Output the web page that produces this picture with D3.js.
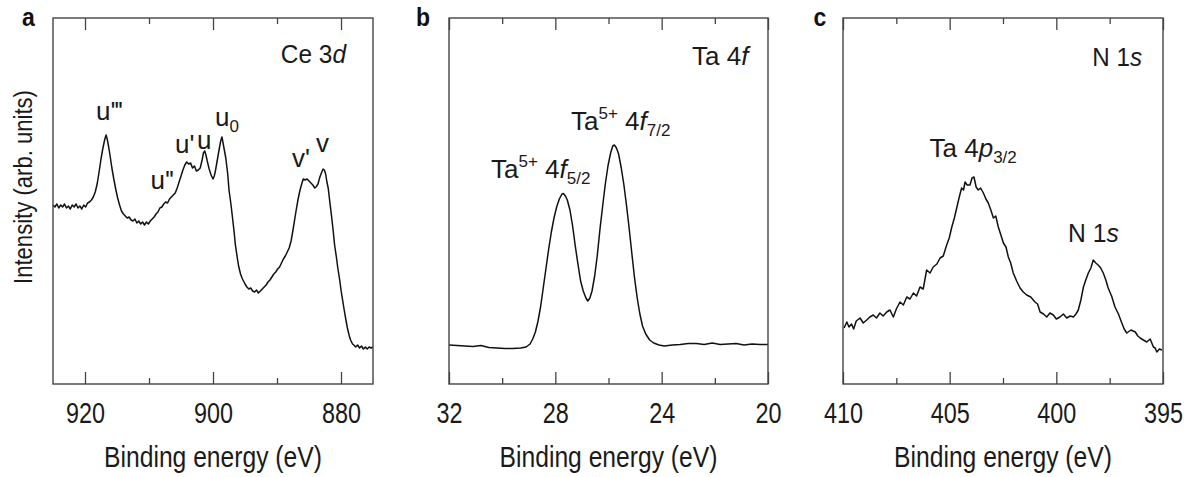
<!DOCTYPE html>
<html>
<head>
<meta charset="utf-8">
<script src="https://cdn.jsdelivr.net/npm/d3@7"></script>
<style>
html,body{margin:0;padding:0;background:#fff;}
svg{display:block;}
</style>
</head>
<body>
<svg id="chart" width="1194" height="477"></svg>
<script>
// ---------- DATA ----------
// Panel a: Ce 3d
const ceEnergy = [925,924.7,924.4,924.1,923.8,923.5,923.2,922.9,922.6,922.3,922,921.7,921.4,921.1,920.8,920.5,920.2,919.9,919.6,919.3,919,918.7,918.4,918.1,917.8,917.5,917.2,916.9,916.7,916.5,916.3,916.1,915.8,915.5,915.2,914.9,914.6,914.3,914,913.7,913.4,913.1,912.8,912.5,912.2,911.9,911.6,911.3,911,910.7,910.4,910.1,909.8,909.5,909.2,908.9,908.6,908.3,908,907.7,907.4,907.1,906.8,906.5,906.2,905.9,905.6,905.3,905,904.7,904.4,904.1,903.8,903.5,903.2,902.9,902.6,902.3,902,901.7,901.5,901.3,901.1,900.9,900.6,900.3,900,899.8,899.6,899.3,899,898.8,898.6,898.4,898.2,898,897.7,897.5,897.2,897,896.7,896.5,896.2,896,895.7,895.4,895,894.7,894.4,894.1,893.8,893.5,893.2,892.9,892.6,892.3,892,891.7,891.4,891.1,890.8,890.5,890.2,889.9,889.6,889.3,889,888.7,888.4,888.1,887.8,887.5,887.2,887,886.7,886.4,886.1,885.9,885.6,885.3,885,884.7,884.4,884.1,883.9,883.6,883.3,883,882.8,882.6,882.4,882.2,882,881.8,881.5,881.2,881,880.7,880.5,880.2,880,879.7,879.5,879.2,879,878.7,878.5,878.2,878,877.7,877.4,877.1,876.8,876.5,876.2,875.9,875.6,875.3,875];
const ceIntensity = [179,177,180,176,179,177,180,176,178,175,179,177,180,176,178,175,179,177,181,182,184,187,192,200,212,225,236,245,249,244,237,229,216,205,195,186,179,173,170,168,166,167,164,163,165,161,163,160,162,159,162,160,163,165,167,170,172,176,177,180,182,181,185,187,189,191,196,202,208,214,219,222,220,221,216,218,213,214,216,224,231,233,229,223,215,209,205,208,214,225,236,243,247,240,233,226,210,194,180,169,152,139,126,118,110,105,100,97,95,96,93,92,94,91,93,95,97,99,102,104,107,110,112,115,117,121,125,128,132,136,143,154,166,174,185,194,201,205,204,205,203,201,199,196,197,200,207,212,215,214,210,202,196,185,169,152,139,126,116,104,94,82,74,63,56,48,44,40,39,37,39,36,38,35,37,35,37,36,37];
const ceMajorTicks = [920, 900, 880];
const ceMinorTicks = [910, 890];

// Panel b: Ta 4f
const taEnergy = [32,31.7,31.4,31.1,30.8,30.5,30.2,29.9,29.6,29.3,29.1,28.95,28.85,28.75,28.65,28.55,28.45,28.35,28.25,28.15,28.05,27.95,27.85,27.75,27.7,27.62,27.55,27.45,27.35,27.25,27.15,27.05,26.95,26.85,26.78,26.7,26.62,26.52,26.42,26.32,26.22,26.12,26.02,25.92,25.84,25.78,25.7,25.62,25.52,25.42,25.32,25.22,25.12,25.02,24.92,24.82,24.72,24.6,24.45,24.3,24.1,23.9,23.6,23.3,23.0,22.7,22.4,22.1,21.8,21.5,21.2,20.9,20.6,20.3,20];
const taIntensity = [39,38.5,38,37.5,38.5,36.5,36,35.5,35.5,36,37,40,45,52,63,78,97,116,135,152,166,177,185,190,190.5,188,184,174,158,138,120,103,93,86,83,86,93,108,129,155,178,200,218,231,238,239,236,230,216,199,178,155,130,106,86,70,58,50,44,41,39,38,39,39.5,40.5,40.5,39.5,41,39.5,40,40.5,39,40,39.5,39.5];
const taMajorTicks = [32, 28, 24, 20];
const taMinorTicks = [30, 26, 22];

// Panel c: N 1s
const nEnergy = [409.95,409.82,409.72,409.6,409.5,409.38,409.2,409.05,408.89,408.74,408.58,408.43,408.27,408.12,407.95,407.8,407.64,407.5,407.33,407.17,407.01,406.86,406.7,406.55,406.39,406.24,406.08,405.92,405.77,405.6,405.45,405.3,405.14,405.02,404.9,404.78,404.67,404.55,404.44,404.35,404.28,404.18,404.05,403.95,403.86,403.76,403.66,403.55,403.42,403.3,403.19,403.07,402.95,402.84,402.72,402.6,402.48,402.36,402.25,402.14,402.02,401.86,401.7,401.55,401.39,401.2,401.0,400.88,400.76,400.6,400.45,400.3,400.14,400.0,399.83,399.67,399.51,399.35,399.2,399.08,398.97,398.85,398.73,398.62,398.5,398.38,398.27,398.15,398.04,397.92,397.8,397.68,397.57,397.41,397.25,397.09,396.93,396.82,396.7,396.5,396.3,396.18,396.07,395.92,395.76,395.6,395.45,395.37,395.29,395.17,395.05];
const nIntensity = [56,62,57,60,55,63,66,61,64,67,69,66,71,68,72,74,67,75,82,79,87,85,91,88,97,95,114,111,117,120,126,128,139,146,157,166,176,187,196,194,202,199,199,206,207,197,194,196,191,185,181,174,166,168,157,149,141,137,127,121,111,103,96,92,89,87,82,80,72,70,67,71,69,65,67,70,66,68,67,70,74,84,97,104,111,116,124,121,119,116,111,104,96,88,77,70,61,55,51,54,52,48,46,44,42,45,37,36,32,35,34];
const nMajorTicks = [410, 405, 400, 395];
const nMinorTicks = [407.5, 402.5, 397.5];

const xAxisTitle = "Binding energy (eV)";
const yAxisTitle = "Intensity (arb. units)";

// ---------- LAYOUT ----------
const svg = d3.select("#chart");
const FONT = "'Liberation Sans', Arial, Helvetica, sans-serif";
const plotTop = 18, plotBottom = 384;
const yScale = d3.scaleLinear().domain([0, 366]).range([plotBottom, plotTop]);

const panels = [
  {letter: "a", x0: 53, x1: 373, domain: [925, 875], energy: ceEnergy, intensity: ceIntensity, major: ceMajorTicks, minor: ceMinorTicks, letterX: 22},
  {letter: "b", x0: 449, x1: 768, domain: [32, 20], energy: taEnergy, intensity: taIntensity, major: taMajorTicks, minor: taMinorTicks, letterX: 416},
  {letter: "c", x0: 843, x1: 1163, domain: [410, 395], energy: nEnergy, intensity: nIntensity, major: nMajorTicks, minor: nMinorTicks, letterX: 813.5}
];

function richText(g, x, yb, parts, opts) {
  const size = opts.size || 26, sx = opts.sx || 1;
  const t = g.append("text")
    .attr("transform", `translate(${x},${yb}) scale(${sx},1)`)
    .attr("font-family", FONT)
    .attr("font-size", size)
    .attr("fill", "#1a1a1a")
    .attr("text-anchor", opts.anchor || "start");
  let shift = 0;
  parts.forEach(p => {
    const s = t.append("tspan").text(p.t);
    let target = 0;
    if (p.sup) { target = -11; s.attr("font-size", 17); }
    if (p.sub) { target = 6; s.attr("font-size", 17); }
    if (target - shift !== 0) s.attr("dy", target - shift);
    shift = target;
    if (p.it) s.attr("font-style", "italic");
    if (p.ls) s.attr("letter-spacing", p.ls);
  });
  return t;
}

panels.forEach(p => {
  const g = svg.append("g");
  const xScale = d3.scaleLinear().domain(p.domain).range([p.x0, p.x1]);

  // curve
  const pts = p.energy.map((e, i) => [e, p.intensity[i]]);
  g.append("path")
    .datum(pts)
    .attr("fill", "none")
    .attr("stroke", "#111")
    .attr("stroke-width", 1.5)
    .attr("stroke-linejoin", "round")
    .attr("d", d3.line().x(d => xScale(d[0])).y(d => yScale(d[1])));

  // axes: major ticks bottom (with labels) & top, minor ticks
  const bAx = g.append("g").attr("transform", `translate(0,${plotBottom})`)
    .call(d3.axisBottom(xScale).tickValues(p.major).tickSizeInner(-12).tickSizeOuter(0).tickFormat(d3.format("d")));
  const tAx = g.append("g").attr("transform", `translate(0,${plotTop})`)
    .call(d3.axisTop(xScale).tickValues(p.major).tickSizeInner(-12).tickSizeOuter(0).tickFormat(""));
  const bMin = g.append("g").attr("transform", `translate(0,${plotBottom})`)
    .call(d3.axisBottom(xScale).tickValues(p.minor).tickSizeInner(-6).tickSizeOuter(0).tickFormat(""));
  const tMin = g.append("g").attr("transform", `translate(0,${plotTop})`)
    .call(d3.axisTop(xScale).tickValues(p.minor).tickSizeInner(-6).tickSizeOuter(0).tickFormat(""));
  [bAx, tAx, bMin, tMin].forEach(a => {
    a.select(".domain").remove();
    a.selectAll(".tick line").attr("stroke", "#444").attr("stroke-width", 1.3);
  });
  bAx.selectAll(".tick text")
    .attr("y", 0).attr("dy", 0)
    .attr("transform", "translate(0,39) scale(0.78,1)")
    .attr("font-family", FONT)
    .attr("font-size", 30)
    .attr("fill", "#1a1a1a");

  // frame
  g.append("rect")
    .attr("x", p.x0).attr("y", plotTop)
    .attr("width", p.x1 - p.x0).attr("height", plotBottom - plotTop)
    .attr("fill", "none").attr("stroke", "#444").attr("stroke-width", 1.4);

  // x title
  g.append("text")
    .attr("transform", `translate(${(p.x0 + p.x1) / 2},467) scale(0.85,1)`)
    .attr("text-anchor", "middle")
    .attr("font-family", FONT).attr("font-size", 29).attr("fill", "#1a1a1a")
    .text(xAxisTitle);

  // panel letter
  g.append("text")
    .attr("transform", `translate(${p.letterX},26) scale(0.92,1)`)
    .attr("font-family", FONT).attr("font-size", 25).attr("font-weight", "bold").attr("fill", "#111")
    .text(p.letter);
});

// y title
svg.append("text")
  .attr("transform", "translate(31.5,187) rotate(-90) scale(0.85,1)")
  .attr("text-anchor", "middle")
  .attr("font-family", FONT).attr("font-size", 26).attr("fill", "#1a1a1a")
  .text(yAxisTitle);

// annotations
const ann = svg.append("g");
// panel a
richText(ann, 346, 63, [{t: "Ce 3"}, {t: "d", it: true}], {anchor: "end", sx: 0.94});
richText(ann, 96, 120, [{t: "u"}, {t: "'''", ls: -1.2}], {});
richText(ann, 150.5, 189, [{t: "u"}, {t: "''", ls: -1}], {});
richText(ann, 175, 153, [{t: "u'"}], {});
richText(ann, 197, 149, [{t: "u"}], {});
richText(ann, 215, 126, [{t: "u"}, {t: "0", sub: true}], {});
richText(ann, 292, 166.5, [{t: "v'"}], {});
richText(ann, 316, 151.5, [{t: "v"}], {});
// panel b
richText(ann, 748.5, 65, [{t: "Ta 4"}, {t: "f", it: true}], {anchor: "end"});
richText(ann, 571, 130, [{t: "Ta"}, {t: "5+", sup: true}, {t: " 4"}, {t: "f", it: true}, {t: "7/2", sub: true}], {});
richText(ann, 491, 178.3, [{t: "Ta"}, {t: "5+", sup: true}, {t: " 4"}, {t: "f", it: true}, {t: "5/2", sub: true}], {});
// panel c
richText(ann, 1142, 65.5, [{t: "N 1"}, {t: "s", it: true}], {anchor: "end", sx: 0.93});
richText(ann, 929.5, 156.7, [{t: "Ta 4"}, {t: "p", it: true}, {t: "3/2", sub: true}], {});
richText(ann, 1068, 241.5, [{t: "N 1"}, {t: "s", it: true}], {sx: 0.95});
</script>
</body>
</html>
